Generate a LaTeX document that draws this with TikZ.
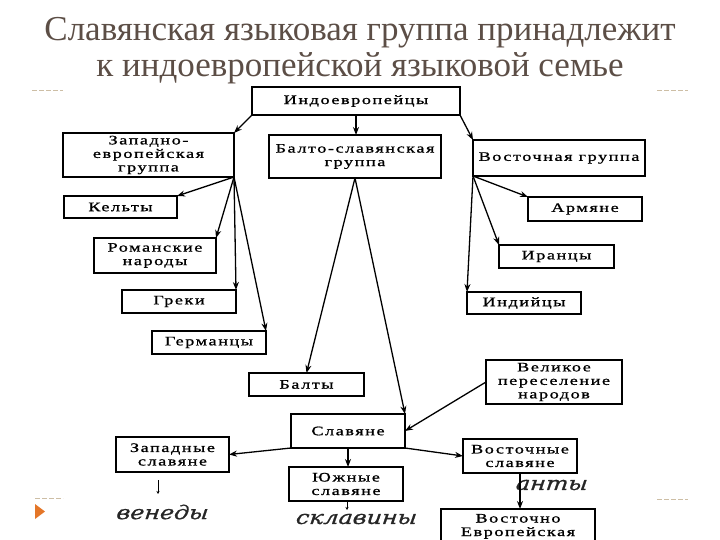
\documentclass[tikz,border=0pt]{standalone}
\usepackage{fontspec}
\usepackage{tikz}
\usetikzlibrary{arrows.meta,calc}
\setmainfont{Liberation Serif}
\newfontfamily\titlefont{Liberation Serif}
\newfontfamily\boxfont[FakeStretch=1.4,LetterSpace=12,FakeBold=1]{Liberation Serif}
\newfontfamily\handfont[FakeSlant=0.1,FakeStretch=1.25,FakeBold=1]{DejaVu Serif}
\definecolor{titlegray}{RGB}{92,78,70}
\definecolor{decoline}{RGB}{205,190,165}
\definecolor{bullet}{RGB}{228,118,40}
\tikzset{
  every picture/.style={draw=black, text=black},
}

\begin{document}
\begin{tikzpicture}[x=1pt, y=-1pt,
  box/.style={draw, line width=1.4pt, inner sep=0pt, outer sep=0pt, align=center,
    font=\boxfont\fontsize{13}{13.5}\selectfont},
  arr/.style={-{Stealth[length=8pt,width=6pt]}, line width=1.3pt},
  harr/.style={-{Stealth[length=3pt,width=3pt]}, line width=0.7pt},
  hand/.style={font=\handfont\itshape\fontsize{19}{19}\selectfont, text=black!85}]
\useasboundingbox (0,0) rectangle (720,540);
\clip (0,0) rectangle (720,540);
% title
\node[font=\titlefont\fontsize{35}{36}\selectfont, text=titlegray, align=center,
  inner sep=0pt, anchor=north] (title) at (360,17)
  {Славянская языковая группа принадлежит\\к индоевропейской языковой семье};
% slide decoration
\draw[decoline, dashed, dash pattern=on 5pt off 2pt] (32,90) -- (63,90);
\draw[decoline, dashed, dash pattern=on 5pt off 2pt] (657,90) -- (688,90);
\draw[decoline, dashed, dash pattern=on 5pt off 2pt] (35,498) -- (63,498);
\draw[decoline, dashed, dash pattern=on 5pt off 2pt] (657,499) -- (688,499);
\fill[bullet] (35,504) -- (45,511.5) -- (35,519) -- cycle;
% top level
\node[box, minimum width=208, minimum height=28] (indo) at (356,101) {Индоевропейцы};
\node[box, minimum width=171, minimum height=44] (west) at (148.5,155)
  {Западно-\\европейская\\группа};
\node[box, minimum width=172, minimum height=43] (balto) at (355,156.5)
  {Балто-славянская\\группа};
\node[box, minimum width=172, minimum height=36] (east) at (559,158) {Восточная группа};
% western branch
\node[box, minimum width=113, minimum height=22] (kelt) at (120.5,207) {Кельты};
\node[box, minimum width=122, minimum height=35] (rom) at (155,255.5) {Романские\\народы};
\node[box, minimum width=114, minimum height=23] (greki) at (179,301.5) {Греки};
\node[box, minimum width=114, minimum height=23] (germ) at (209,342.5) {Германцы};
% eastern branch
\node[box, minimum width=114, minimum height=24] (arm) at (585,209) {Армяне};
\node[box, minimum width=115, minimum height=23] (iran) at (556.5,256.5) {Иранцы};
\node[box, minimum width=114, minimum height=22] (ind) at (524,303) {Индийцы};
% balto-slavic branch
\node[box, minimum width=115, minimum height=23] (balty) at (306.5,384.5) {Балты};
\node[box, minimum width=136, minimum height=44] (migr) at (554,382)
  {Великое\\переселение\\народов};
\node[box, minimum width=114, minimum height=34] (slav) at (348,431) {Славяне};
\node[box, minimum width=113, minimum height=35] (zap) at (172.5,454.5) {Западные\\славяне};
\node[box, minimum width=114, minimum height=34] (yuzh) at (346,484) {Южные\\славяне};
\node[box, minimum width=114, minimum height=34] (vost) at (520,456) {Восточные\\славяне};
\node[box, minimum width=154, inner ysep=5pt, anchor=north] (ee) at (518,509)
  {Восточно\\Европейская};
% handwritten notes
\node[hand] (ven) at (162,512) {венеды};
\node[hand] (skl) at (356,519) {склавины};
\node[hand, anchor=west] (anty) at (512,485) {анты};
\coordinate (v1) at (158,480);
\coordinate (v2) at (158,494);
\coordinate (s1) at (347,502);
\coordinate (s2) at (347,510);
\draw[harr] (v1) -- (v2);
\draw[harr] (s1) -- (s2);
% connectors
\draw[arr] (indo.south west) -- (west.north east);
\draw[arr] (indo.south) -- (indo.south |- balto.north);
\draw[arr] (indo.south east) -- (east.north west);
\foreach \t in {kelt,rom,greki,germ}{
  \draw[arr] (west.south east) -- (\t.north east);
}
\foreach \t in {arm,iran,ind}{
  \draw[arr] (east.south west) -- (\t.north west);
}
\draw[arr] (balto.south) -- (balty.north);
\draw[arr] (balto.south) -- (slav.north east);
\draw[arr] (migr.west) -- (slav.east);
\draw[arr] (slav.south west) -- (zap.east);
\draw[arr] (slav.south) -- (slav.south |- yuzh.north);
\draw[arr] (slav.south east) -- (vost.west);
\draw[arr] (vost.south) -- (vost.south |- ee.north);
\end{tikzpicture}
\end{document}
